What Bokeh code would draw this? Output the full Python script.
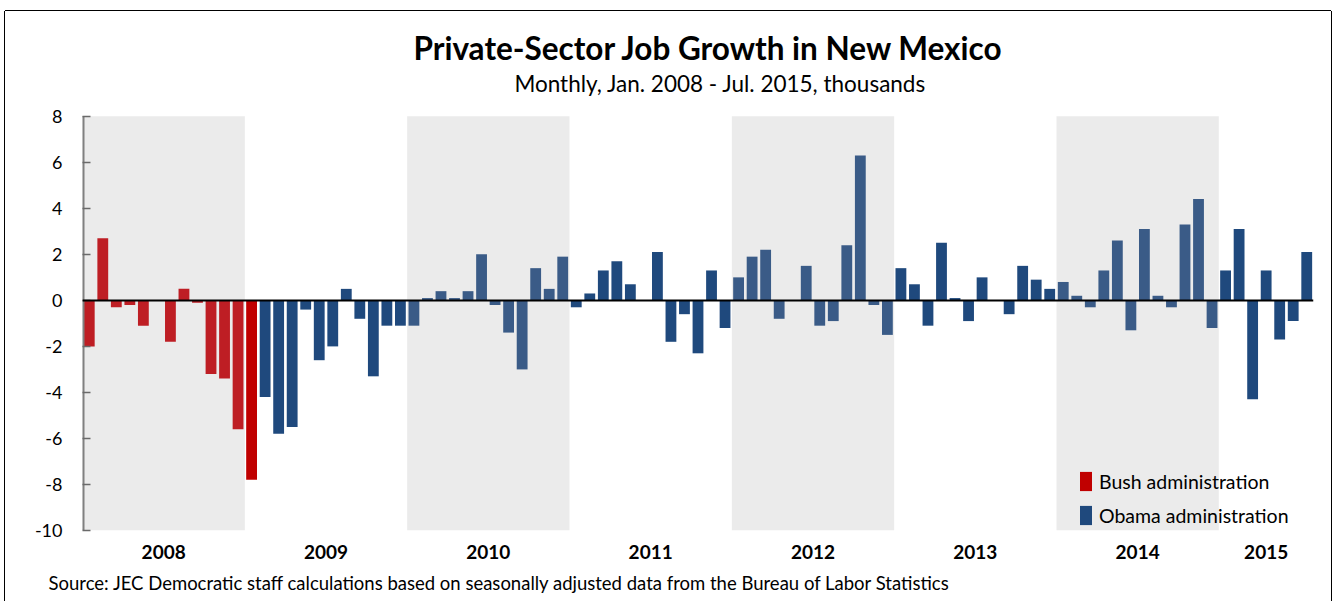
import pandas as pd
from bokeh.plotting import figure
from bokeh.models import (Range1d, FixedTicker, Span, Title, Legend, LegendItem,
                          ColumnDataSource, LinearAxis)
from bokeh.core.properties import value
from bokeh.embed import file_html
from bokeh.resources import INLINE

# ---------------- data ----------------
years = [2008, 2009, 2010, 2011, 2012, 2013, 2014, 2015]
shaded_years = [2008, 2010, 2012, 2014]
v2008 = [-2.0, 2.7, -0.3, -0.2, -1.1, 0.0, -1.8, 0.5, -0.1, -3.2, -3.4, -5.6]
v2009 = [-7.8, -4.2, -5.8, -5.5, -0.4, -2.6, -2.0, 0.5, -0.8, -3.3, -1.1, -1.1]
v2010 = [-1.1, 0.1, 0.4, 0.1, 0.4, 2.0, -0.2, -1.4, -3.0, 1.4, 0.5, 1.9]
v2011 = [-0.3, 0.3, 1.3, 1.7, 0.7, 0.0, 2.1, -1.8, -0.6, -2.3, 1.3, -1.2]
v2012 = [1.0, 1.9, 2.2, -0.8, 0.0, 1.5, -1.1, -0.9, 2.4, 6.3, -0.2, -1.5]
v2013 = [1.4, 0.7, -1.1, 2.5, 0.1, -0.9, 1.0, 0.0, -0.6, 1.5, 0.9, 0.5]
v2014 = [0.8, 0.2, -0.3, 1.3, 2.6, -1.3, 3.1, 0.2, -0.3, 3.3, 4.4, -1.2]
v2015 = [1.3, 3.1, -4.3, 1.3, -1.7, -0.9, 2.1]
yearly_values = [v2008, v2009, v2010, v2011, v2012, v2013, v2014, v2015]
bush_last_month = "2009-01"
y_ticks = [-10, -8, -6, -4, -2, 0, 2, 4, 6, 8]
legend_labels = ["Bush administration", "Obama administration"]

title_text = "Private-Sector Job Growth in New Mexico"
subtitle_text = "Monthly, Jan. 2008 - Jul. 2015, thousands"
source_text = ("Source: JEC Democratic staff calculations based on seasonally adjusted "
               "data from the Bureau of Labor Statistics")

# ---------------- styles ----------------
FONT = "Lato"
BUSH = "#C00000"
BUSH_SHADED = "#BE1E24"
OBAMA = "#1F497D"
OBAMA_SHADED = "#3A5B87"
BAND = "#EBEBEB"
Y_MIN, Y_MAX = -10, 8
Y_TOP = 12.553          # headroom above the value axis for the titles

# ---------------- build table ----------------
values, month_labels, month_years = [], [], []
for yr, vals in zip(years, yearly_values):
    for m, v in enumerate(vals):
        values.append(v)
        month_labels.append(f"{yr}-{m + 1:02d}")
        month_years.append(yr)
idx = list(range(len(values)))
bush_end = month_labels.index(bush_last_month)
colors = []
for i, yr in zip(idx, month_years):
    shaded = yr in shaded_years
    if i <= bush_end:
        colors.append(BUSH_SHADED if shaded else BUSH)
    else:
        colors.append(OBAMA_SHADED if shaded else OBAMA)
src = ColumnDataSource(dict(x=idx, top=values, color=colors))

year_first = [month_years.index(y) for y in years]
year_last = [len(month_years) - 1 - month_years[::-1].index(y) for y in years]
year_centers = [(a + b) / 2 for a, b in zip(year_first, year_last)]
x_lo, x_hi = -0.5, len(values) - 0.5

p = figure(width=1326, height=590, output_backend="svg", toolbar_location=None,
           x_range=Range1d(x_lo, x_hi), y_range=Range1d(Y_MIN, Y_TOP),
           min_border_left=77, min_border_right=18, min_border_top=0,
           min_border_bottom=70, x_axis_location=None)
p.margin = (11, 0, 0, 5)
p.outline_line_color = None
p.xgrid.grid_line_color = None
p.ygrid.grid_line_color = None
p.background_fill_color = "white"
p.border_fill_color = "white"
p.styles = {"box-shadow": "-1px 0 0 0 #000, 1px 0 0 0 #000, 0 -1px 0 0 #000"}

# shaded year bands
bl = [year_first[years.index(y)] - 0.5 for y in shaded_years]
br = [year_last[years.index(y)] + 0.5 for y in shaded_years]
p.quad(left=bl, right=br, bottom=Y_MIN, top=Y_MAX, fill_color=BAND, line_color=None)

# bars
p.vbar(x="x", top="top", bottom=0, width=0.8, fill_color="color", line_color=None, source=src)

p.add_layout(Span(location=0, dimension="width", line_color="black", line_width=2))

# y axis (line drawn only over the value range)
ya = p.yaxis[0]
ya.ticker = FixedTicker(ticks=y_ticks)
ya.major_label_overrides = {t: str(t) for t in y_ticks}
ya.axis_line_color = None
ya.major_tick_line_color = "#6A6A6A"
ya.major_tick_line_width = 1.5
ya.major_tick_in = 8
ya.major_tick_out = 0
ya.minor_tick_line_color = None
ya.major_label_standoff = 20
ya.major_label_text_font = FONT
ya.major_label_text_font_size = "18px"
ya.major_label_text_color = "#000000"
p.segment(x0=[x_lo], y0=[Y_MIN], x1=[x_lo], y1=[Y_MAX], line_color="#808080", line_width=4)

# x axis: year labels
xa = LinearAxis(ticker=FixedTicker(ticks=year_centers),
                major_label_overrides={c: str(y) for c, y in zip(year_centers, years)})
xa.axis_line_color = None
xa.major_tick_line_color = None
xa.minor_tick_line_color = None
xa.major_label_standoff = 8
xa.major_label_text_font = FONT
xa.major_label_text_font_size = "19px"
xa.major_label_text_font_style = "bold"
xa.major_label_text_color = "#000000"
p.add_layout(xa, "below")

# source note
p.add_layout(Title(text=source_text, align="left", offset=-34, text_font=FONT,
                   text_font_size="18.5px", text_font_style="normal", text_color="#000000",
                   standoff=16), "below")

# titles, placed in the headroom above the value axis
p.text(x=[45.78], y=[10.95], text=[title_text], text_align="center", text_baseline="middle",
       text_font=value(FONT), text_font_size="31.5px", text_font_style="bold",
       text_color="#000000")
p.text(x=[46.66], y=[9.43], text=[subtitle_text], text_align="center", text_baseline="middle",
       text_font=value(FONT), text_font_size="22.5px", text_font_style="normal",
       text_color="#000000")

# legend
rb = p.vbar(x=[0], top=[0], bottom=[0], width=0.8, fill_color=BUSH, line_color=None)
ro = p.vbar(x=[0], top=[0], bottom=[0], width=0.8, fill_color=OBAMA, line_color=None)
leg = Legend(items=[LegendItem(label=legend_labels[0], renderers=[rb]),
                    LegendItem(label=legend_labels[1], renderers=[ro])],
             location=(996, 3), background_fill_alpha=0, border_line_color=None,
             glyph_width=15, glyph_height=24, label_height=24, spacing=10,
             label_standoff=6, padding=2, margin=0,
             label_text_font=FONT, label_text_font_size="19.5px", label_text_color="#000000")
p.add_layout(leg, "center")

open("out.html", "w").write(file_html(p, INLINE))
